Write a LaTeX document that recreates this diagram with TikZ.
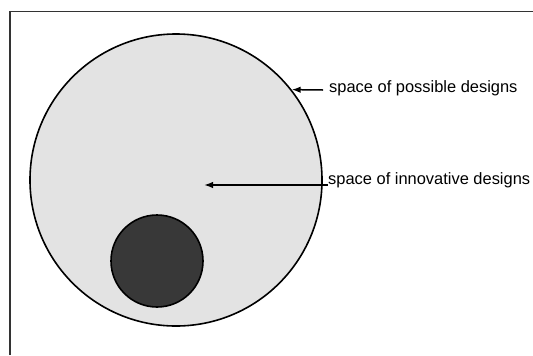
\documentclass[tikz,border=0pt]{standalone}
\usepackage{fontspec}
\setmainfont{Liberation Sans}
\usepackage{tikz}
\usetikzlibrary{arrows.meta,positioning,calc}

\begin{document}
\begin{tikzpicture}[
    x=1bp, y=-1bp,
    space/.style={circle, draw, line width=1.6bp, inner sep=0pt},
    label/.style={anchor=west, inner sep=0pt, font=\fontsize{16.5}{19}\selectfont},
    arrow/.style={-{Latex[length=9bp, width=6.5bp]}, line width=1.5bp}
]
\useasboundingbox (0,0) rectangle (533,355);

% Frame
\draw[line width=1.8bp, black!80] (10,355) -- (10,11.5) -- (533,11.5);

% Spaces
\node[space, fill=black!11, minimum size=292bp] (possible) at (176,180) {};
\node[space, fill=black!78, minimum size=92bp] (innovative) at (157,261) {};

% Labels
\node[label] (possiblelabel) at (329,88) {space of possible designs};
\node[label] (innovativelabel) at (328,180) {space of innovative designs};
\coordinate (innovativetip) at (204,185);

% Arrows
\draw[arrow] ($(possiblelabel.west)+(-6,2)$) -- (possible.38);
\draw[arrow] (innovativelabel.west |- innovativetip) -- (innovativetip);

\end{tikzpicture}
\end{document}
